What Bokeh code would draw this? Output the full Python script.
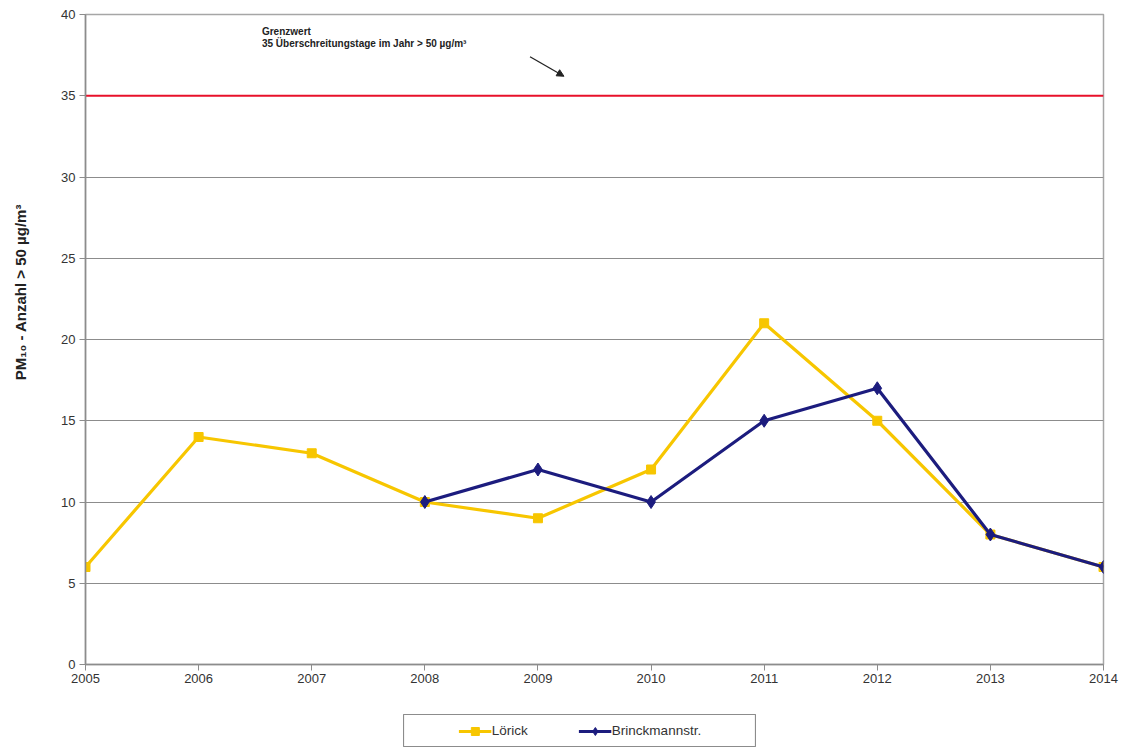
import math
from bokeh.plotting import figure
from bokeh.layouts import column, row
from bokeh.models import (Legend, LegendItem, Label, Arrow, NormalHead,
                          FixedTicker, Range1d, Spacer)
from bokeh.embed import file_html
from bokeh.resources import INLINE

# Annual PM10 exceedance days (> 50 µg/m³) per station
years = [2005, 2006, 2007, 2008, 2009, 2010, 2011, 2012, 2013, 2014]
loerick = [6, 14, 13, 10, 9, 12, 21, 15, 8, 6]
brinck_years = [2008, 2009, 2010, 2011, 2012, 2013, 2014]
brinckmann = [10, 12, 10, 15, 17, 8, 6]
limit_value = 35
y_ticks = [0, 5, 10, 15, 20, 25, 30, 35, 40]
series_names = ["Lörick", "Brinckmannstr."]
y_title = "PM₁₀ - Anzahl > 50 µg/m³"

FONT = "Liberation Sans"
YELLOW = "#F7C600"
NAVY = "#1C1C7E"
GRAY = "#8C8C8C"

TITLE_W = 42
CHART_H = 700

p = figure(width=1121 - TITLE_W, height=CHART_H, output_backend="svg",
           toolbar_location=None,
           x_range=Range1d(2005, 2014), y_range=Range1d(0, 40),
           min_border_left=85 - TITLE_W, min_border_right=18, min_border_top=14,
           min_border_bottom=36)
p.background_fill_color = "white"
p.border_fill_color = "white"
p.outline_line_color = "#A6A6A6"
p.outline_line_width = 1.5

# axes
p.xaxis.ticker = FixedTicker(ticks=years)
p.yaxis.ticker = FixedTicker(ticks=y_ticks)
for ax in (p.xaxis[0], p.yaxis[0]):
    ax.axis_line_color = GRAY
    ax.axis_line_width = 1.5
    ax.major_tick_line_color = GRAY
    ax.major_tick_out = 6
    ax.major_tick_in = 0
    ax.minor_tick_line_color = None
    ax.major_label_text_font = FONT
    ax.major_label_text_font_size = "13px"
    ax.major_label_text_color = "#333333"
p.xaxis.major_label_standoff = 3
p.yaxis.major_label_standoff = 4

p.xgrid.grid_line_color = None
p.ygrid.grid_line_color = GRAY
p.ygrid.grid_line_width = 1.2

# limit value line
p.line([years[0], years[-1]], [limit_value, limit_value],
       line_color="#E8102A", line_width=2)


def draw_series(fig, msize_sq, msize_di):
    """Draw both station series on a figure; returns the legend renderers."""
    la = fig.line(years, loerick, line_color=YELLOW, line_width=3.2)
    ma = fig.scatter(years, loerick, marker="square", size=msize_sq,
                     fill_color=YELLOW, line_color=YELLOW)
    lb = fig.line(brinck_years, brinckmann, line_color=NAVY, line_width=3.2)
    mb = fig.scatter(brinck_years, brinckmann, marker="diamond", size=msize_di,
                     fill_color=NAVY, line_color=NAVY)
    return [la, ma], [lb, mb]


draw_series(p, 9, 13)

# limit annotation
p.add_layout(Label(x=2006.56, y=38.6, text="Grenzwert", text_font=FONT,
                   text_font_size="10px", text_font_style="bold",
                   text_color="#222222"))
p.add_layout(Label(x=2006.56, y=37.85, text="35 Überschreitungstage im Jahr > 50 µg/m³",
                   text_font=FONT, text_font_size="10px", text_font_style="bold",
                   text_color="#222222"))
p.add_layout(Arrow(x_start=2008.93, y_start=37.4, x_end=2009.23, y_end=36.2,
                   line_color="#222222", line_width=1.3,
                   end=NormalHead(size=7, fill_color="#222222",
                                  line_color="#222222")))

# narrow strip holding the vertical y axis title
tf = figure(width=TITLE_W, height=CHART_H, output_backend="svg",
            toolbar_location=None, x_range=Range1d(0, TITLE_W),
            y_range=Range1d(0, CHART_H), min_border=0,
            x_axis_type=None, y_axis_type=None)
tf.xgrid.grid_line_color = None
tf.ygrid.grid_line_color = None
tf.outline_line_color = None
tf.add_layout(Label(x=20, y=CHART_H - 299, text=y_title, angle=math.pi / 2,
                    text_align="center", text_baseline="middle",
                    text_font=FONT, text_font_size="15px",
                    text_font_style="bold", text_color="#222222"))

# legend box below the chart (series drawn off-range, only the legend shows)
lg = figure(width=353, height=33, output_backend="svg", toolbar_location=None,
            x_range=Range1d(0, 1), y_range=Range1d(0, 1),
            min_border=0, x_axis_type=None, y_axis_type=None)
lg.xgrid.grid_line_color = None
lg.ygrid.grid_line_color = None
lg.outline_line_color = GRAY
lg.outline_line_width = 1.2
r_a, r_b = draw_series(lg, 7, 10)
legend = Legend(items=[LegendItem(label=series_names[0], renderers=r_a),
                       LegendItem(label=series_names[1], renderers=r_b)],
                orientation="horizontal", location="center",
                label_text_font=FONT, label_text_font_size="13.5px",
                label_text_color="#333333", glyph_width=33, glyph_height=20,
                spacing=50, padding=0, margin=0, border_line_color=None,
                background_fill_color=None, label_standoff=1,
                label_height=20)
lg.add_layout(legend, "center")

layout = column(row(tf, p), Spacer(height=14), row(Spacer(width=403), lg))

open("out.html", "w").write(file_html(layout, INLINE))
